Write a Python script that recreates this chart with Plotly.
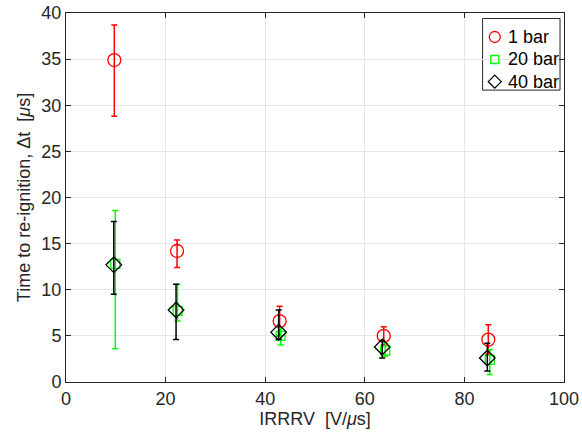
import plotly.graph_objects as go

# Data
x_1bar = [9.7, 22.3, 42.9, 63.8, 84.8]
y_1bar = [34.9, 14.2, 6.6, 5.0, 4.6]
up_1bar = [38.7, 15.4, 8.2, 6.0, 6.2]
lo_1bar = [28.8, 12.4, 5.0, 4.0, 3.0]

x_20bar = [9.9, 22.4, 43.1, 64.1, 85.1]
y_20bar = [12.8, 7.7, 5.0, 3.4, 2.4]
up_20bar = [18.6, 10.6, 5.8, 4.2, 3.5]
lo_20bar = [3.6, 6.6, 4.0, 2.8, 0.8]

x_40bar = [9.6, 22.1, 42.7, 63.5, 84.6]
y_40bar = [12.7, 7.8, 5.4, 3.8, 2.6]
up_40bar = [17.4, 10.6, 7.8, 4.5, 4.2]
lo_40bar = [9.5, 4.6, 4.6, 2.6, 1.2]

legend_labels = ["1 bar", "20 bar", "40 bar"]

series = [
    (x_1bar, y_1bar, up_1bar, lo_1bar, "#ff0000", "circle-open", 13),
    (x_20bar, y_20bar, up_20bar, lo_20bar, "#00ff00", "square-open", 9),
    (x_40bar, y_40bar, up_40bar, lo_40bar, "#000000", "diamond-open", 12),
]
legend_sizes = [11, 8, 10]

FONT = "Liberation Sans, Arial, Helvetica"

fig = go.Figure()
for (xs, ys, ups, los, col, sym, sz), name in zip(series, legend_labels):
    fig.add_trace(go.Scatter(
        x=xs, y=ys, mode="markers", name=name, showlegend=False,
        marker=dict(symbol=sym, size=sz, color=col, line=dict(width=1.3, color=col)),
        error_y=dict(type="data", symmetric=False,
                     array=[u - y for u, y in zip(ups, ys)],
                     arrayminus=[y - l for l, y in zip(los, ys)],
                     color=col, thickness=1.5, width=3),
    ))

# Custom legend (MATLAB style box) drawn on an overlay axis in plot-fraction units
leg_left, leg_right, leg_top, leg_bottom = 0.8365, 0.992, 0.985, 0.791
row_y = [0.935, 0.874, 0.814]
sym_x = 0.861
text_x = 0.884
for i, ((xs, ys, ups, los, col, sym, sz), name) in enumerate(zip(series, legend_labels)):
    fig.add_trace(go.Scatter(
        x=[sym_x], y=[row_y[i]], mode="markers", xaxis="x2", yaxis="y2",
        showlegend=False, hoverinfo="skip",
        marker=dict(symbol=sym, size=legend_sizes[i], color=col, line=dict(width=1.3, color=col)),
    ))
    fig.add_annotation(x=text_x, y=row_y[i], xref="x2", yref="y2", text=name,
                       showarrow=False, xanchor="left", yanchor="middle",
                       font=dict(family=FONT, size=18, color="#000000"))

fig.add_shape(type="rect", xref="x2", yref="y2", x0=leg_left, x1=leg_right,
              y0=leg_bottom, y1=leg_top, line=dict(color="#262626", width=1),
              fillcolor="white", layer="below")

axis_common = dict(
    showline=True, linecolor="#262626", linewidth=1, mirror="allticks",
    ticks="inside", ticklen=5, tickcolor="#262626",
    showgrid=True, gridcolor="#e6e6e6", gridwidth=1, zeroline=False,
    tickfont=dict(family=FONT, size=18, color="#262626"),
)

fig.update_layout(
    width=582, height=443,
    margin=dict(l=66, r=18, t=13, b=61, autoexpand=False),
    paper_bgcolor="white", plot_bgcolor="white",
    font=dict(family=FONT, color="#262626"),
    xaxis=dict(range=[0, 100], dtick=20,
               title=dict(text="IRRRV\u00a0\u00a0[V/<i>μ</i>s]", font=dict(size=18), standoff=4),
               **axis_common),
    yaxis=dict(range=[0, 40], dtick=5,
               title=dict(text="Time to re-ignition, Δt\u00a0\u00a0[<i>μ</i>s]", font=dict(size=18), standoff=6),
               **axis_common),
    xaxis2=dict(range=[0, 1], overlaying="x", visible=False, fixedrange=True),
    yaxis2=dict(range=[0, 1], overlaying="y", visible=False, fixedrange=True),
    showlegend=False,
)

fig.write_html("out.html")
